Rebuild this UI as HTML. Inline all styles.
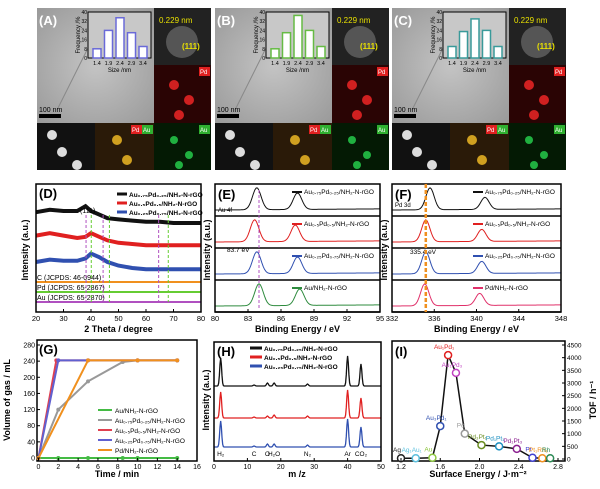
<!DOCTYPE html>
<html><head><meta charset="utf-8">
<style>
html,body{margin:0;padding:0;background:#fff;}
svg{display:block;font-family:"Liberation Sans",sans-serif;}
</style></head>
<body>
<svg id="fig" width="600" height="489" viewBox="0 0 600 489" xmlns="http://www.w3.org/2000/svg">
<defs>
<radialGradient id="tem" cx="50%" cy="50%" r="70%"><stop offset="0" stop-color="#c4c4c4"/><stop offset="1" stop-color="#9a9a9a"/></radialGradient>
</defs>
<g id="topG"></g>
<g id="midG"></g>
<g id="botG"></g>
</svg>
<script>
// ---------- data ----------
const histBins = ["1.4","1.9","2.4","2.9","3.4"];
const histA = [8,24,35,22,10];
const histB = [8,22,37,24,10];
const histC = [10,23,34,24,10];
const xrdX = [20,25,30,35,38,40,43,46,50,55,60,65,70,75,80];
const xrdBlack = [14,16,15,15,19,15,12,9,8,7,6,6,5,5,5];
const xrdRed = [12,14,12,10,11,14,11,8,6,5,4,4,4,4,4];
const xrdBlue = [10,12,11,11,13,17,14,10,7,5,4,4,4,4,4];
const au4fPeaks = [[83.8,87.5],[83.6,87.3],[83.8,87.5],[84.0,87.7]];
const pd3dPeaks = [[335.6,340.8],[335.2,340.5],[335.2,340.5],[335.1,340.3]];
const timeX = [0,2,5,8.5,10,14];
const gasAu = [0,0,0,0,0,0];
const gasAu75 = [0,120,190,238,242,242];
const gasAu50t = [0,1.8,5,10,14];
const gasAu50 = [0,242,242,242,242];
const gasAu25t = [0,2,5,10,14];
const gasAu25 = [0,242,242,242,242];
const gasPdt = [0,5,10,14];
const gasPd = [0,242,242,242];
const msPeaksX = [2,12,16,18,28,40,44];
const msBlack = [28,1,3,3,2,30,22];
const msRed = [26,1,2,3,2,28,20];
const msBlue = [26,1,3,3,2,28,20];
const msLabels = ["H₂","C","O","H₂O","N₂","Ar","CO₂"];
const tofNames = ["Ag","Ag₁Au₁","Au","Au₃Pd₁","Au₁Pd₁","Au₁Pd₃","Pd","Pd₃Pt₁","Pd₁Pt₁","Pd₁Pt₃","Pt","Pt₁Rh₁","Rh"];
const tofX = [1.2,1.35,1.52,1.6,1.68,1.76,1.85,2.02,2.2,2.38,2.54,2.64,2.72];
const tofY = [30,30,50,1300,4100,3400,1000,550,500,400,50,30,30];
const tofColors = ["#222","#5bc0de","#8dc63f","#3050b0","#e02020","#c040c0","#999","#6b8e23","#1e90c0","#8b2090","#4040d0","#f0901e","#2e8b57"];

const NS="http://www.w3.org/2000/svg";
function mk(parent,tag,attrs,text){const e=document.createElementNS(NS,tag);for(const k in attrs)e.setAttribute(k,attrs[k]);if(text!==undefined)e.textContent=text;parent.appendChild(e);return e;}
const topG=document.getElementById('topG'),midG=document.getElementById('midG'),botG=document.getElementById('botG');

// ---------- top TEM panels ----------
const panels=[{x:37,l:"(A)",h:histA,c:"#6a6ad8"},{x:215,l:"(B)",h:histB,c:"#66bb44"},{x:392,l:"(C)",h:histC,c:"#3a9a9a"}];
panels.forEach((p,i)=>{
  const g=mk(topG,'g',{});
  
  
  mk(g,'rect',{x:p.x,y:8,width:117,height:115,fill:'url(#tem)'});
  mk(g,'path',{d:`M${p.x+20} 110 L${p.x+60} 30`,stroke:'#888',fill:'none'});
  mk(g,'text',{x:p.x+2,y:25,'font-size':13,'font-weight':'bold',fill:'#fff'},p.l);
  mk(g,'text',{x:p.x+2,y:112,'font-size':7,fill:'#000'},'100 nm');
  mk(g,'rect',{x:p.x+2,y:114,width:22,height:4,fill:'#000'});
  mk(g,'rect',{x:p.x+117,y:8,width:57,height:57,fill:'#222'});
  mk(g,'circle',{cx:p.x+145,cy:42,r:16,fill:'#555'});
  mk(g,'text',{x:p.x+122,y:23,'font-size':8,fill:'#e8e000'},'0.229 nm');
  mk(g,'text',{x:p.x+145,y:49,'font-size':8,fill:'#e8e000','font-weight':'bold'},'(111)');
  mk(g,'rect',{x:p.x+117,y:65,width:57,height:58,fill:'#2a0404'});
  mk(g,'rect',{x:p.x+117,y:123,width:57,height:47,fill:'#041a04'});
  mk(g,'rect',{x:p.x,y:123,width:58,height:47,fill:'#111'});
  mk(g,'rect',{x:p.x+58,y:123,width:59,height:47,fill:'#2a1a08'});
  [[20,85],[35,100],[25,115]].forEach(b=>mk(g,'circle',{cx:p.x+117+b[0],cy:b[1],r:5,fill:'#d02020'}));
  [[20,140],[35,155],[25,165]].forEach(b=>mk(g,'circle',{cx:p.x+117+b[0],cy:b[1],r:4,fill:'#20b040'}));
  [[15,135],[25,152],[40,165]].forEach(b=>mk(g,'circle',{cx:p.x+b[0],cy:b[1],r:5,fill:'#ddd'}));
  [[80,140],[90,160]].forEach(b=>mk(g,'circle',{cx:p.x+b[0],cy:b[1],r:5,fill:'#d0a020'}));
  mk(g,'rect',{x:p.x+162,y:67,width:11,height:9,fill:'#e02020'});mk(g,'text',{x:p.x+163,y:74,'font-size':6,fill:'#fff'},'Pd');
  mk(g,'rect',{x:p.x+162,y:125,width:11,height:9,fill:'#30b030'});mk(g,'text',{x:p.x+163,y:132,'font-size':6,fill:'#fff'},'Au');
  mk(g,'rect',{x:p.x+94,y:125,width:11,height:9,fill:'#e02020'});mk(g,'text',{x:p.x+95,y:132,'font-size':6,fill:'#fff'},'Pd');
  mk(g,'rect',{x:p.x+105,y:125,width:11,height:9,fill:'#30b030'});mk(g,'text',{x:p.x+106,y:132,'font-size':6,fill:'#fff'},'Au');
  const hx=p.x+51,hy=12,hw=63,hh=46;
  mk(g,'rect',{x:hx,y:hy,width:hw,height:hh,fill:'#c8c8c8',stroke:'#000','stroke-width':1});
  const ys=v=>hy+hh-v/40*hh;
  p.h.forEach((v,k)=>{
    const b=mk(g,'rect',{x:hx+5+k*11.5,y:ys(v),width:8,height:hy+hh-ys(v),fill:'#fff',stroke:p.c,'stroke-width':1.5});
    
    
    mk(g,'text',{x:hx+9+k*11.5,y:hy+hh+7,'font-size':5.5,'text-anchor':'middle'},histBins[k]);
  });
  [0,8,16,24,32,40].forEach(t=>mk(g,'text',{x:hx-1,y:ys(t)+2,'font-size':5,'text-anchor':'end'},t));
  mk(g,'text',{x:hx+hw/2,y:hy+hh+14,'font-size':6,'text-anchor':'middle'},'Size /nm');
  mk(g,'text',{x:0,y:0,'font-size':6,'text-anchor':'middle',transform:`translate(${hx-8},${hy+hh/2}) rotate(-90)`},'Frequency /%');
});

function axes(g,x0,x1,y0,y1){mk(g,'rect',{x:x0,y:y0,width:x1-x0,height:y1-y0,fill:'none',stroke:'#000','stroke-width':1.5});}
function line(g,pts,col,w,name){const p=mk(g,'polyline',{points:pts.map(q=>q.join(',')).join(' '),fill:'none',stroke:col,'stroke-width':w||1});return p;}

const MY0=184,MY1=312;
// ---------- D: XRD ----------
{
 const g=mk(midG,'g',{});
 const X0=36,X1=201,Y0=MY0,Y1=MY1;const sx=v=>X0+(v-20)/60*(X1-X0);
 [[xrdBlack,229,'#111'],[xrdRed,250,'#e02020'],[xrdBlue,274,'#3050b0']].forEach((s,k)=>{
   line(g,xrdX.map((x,i)=>[sx(x),s[1]-s[0][i]*1.2]),s[2],4,'xrd-trace-'+k);
 });
 [[282,'#f0901e','C (JCPDS: 46-0944)'],[292,'#66cc33','Pd (JCPDS: 65-2867)'],[302,'#b050c0','Au (JCPDS: 65-2870)']].forEach(r=>{
   mk(g,'line',{x1:X0,x2:X1,y1:r[0],y2:r[0],stroke:r[1],'stroke-width':2});
   mk(g,'text',{x:X0+1,y:r[0]-2,'font-size':7},r[2]);
 });
 [[38.2,'#b050c0'],[40.1,'#66cc33'],[44.4,'#b050c0'],[46.7,'#66cc33'],[64.6,'#b050c0'],[68.1,'#66cc33']].forEach(v=>mk(g,'line',{x1:sx(v[0]),x2:sx(v[0]),y1:215,y2:302,stroke:v[1],'stroke-width':1,'stroke-dasharray':'3,2'}));
 axes(g,X0,X1,Y0,Y1);
 [20,30,40,50,60,70,80].forEach(t=>{mk(g,'line',{x1:sx(t),x2:sx(t),y1:Y1,y2:Y1-3,stroke:'#000'});mk(g,'text',{x:sx(t),y:Y1+9,'font-size':7.5,'text-anchor':'middle'},t);});
 mk(g,'text',{x:(X0+X1)/2,y:332,'font-size':9,'font-weight':'bold','text-anchor':'middle'},'2 Theta / degree');
 mk(g,'text',{x:0,y:0,'font-size':9,'font-weight':'bold','text-anchor':'middle',transform:'translate(28,250) rotate(-90)'},'Intensity (a.u.)');
 mk(g,'text',{x:39,y:198,'font-size':13,'font-weight':'bold'},'(D)');
 mk(g,'text',{x:80,y:213,'font-size':7},'(111)');
 [['#111','Au₀.₇₅Pd₀.₂₅/NH₂-N-rGO'],['#e02020','Au₀.₅Pd₀.₅/NH₂-N-rGO'],['#3050b0','Au₀.₂₅Pd₀.₇₅/NH₂-N-rGO']].forEach((l,k)=>{
  mk(g,'line',{x1:117,x2:127,y1:194+k*9,y2:194+k*9,stroke:l[0],'stroke-width':3});
  mk(g,'text',{x:129,y:197+k*9,'font-size':6.5,'font-weight':'bold'},l[1]);
 });
}

// ---------- E, F: XPS ----------
function xps(name,X0,X1,xmin,xmax,peaks,ratio,cols,labels,ticks,label,extra){
 const g=mk(midG,'g',{});
 const Y0=MY0,Y1=MY1,h=(Y1-Y0)/4;const sx=v=>X0+(v-xmin)/(xmax-xmin)*(X1-X0);
 peaks.forEach((pk,r)=>{
   const base=Y0+h*(r+1)-6,pts=[];
   for(let i=0;i<=120;i++){const x=xmin+(xmax-xmin)*i/120;let y=0.05*(x-xmin)/(xmax-xmin);
     y+=Math.exp(-Math.pow((x-pk[0])/0.55,2))+ratio*Math.exp(-Math.pow((x-pk[1])/0.55,2));
     pts.push([sx(x),base-y*22]);}
   line(g,pts,cols[r],1,name+'-trace-'+r);
   mk(g,'line',{x1:X0,x2:X1,y1:Y0+h*(r+1),y2:Y0+h*(r+1),stroke:'#000','stroke-width':1.5});
   mk(g,'line',{x1:X1-88,x2:X1-78,y1:Y0+h*r+8,y2:Y0+h*r+8,stroke:cols[r],'stroke-width':2});
   mk(g,'text',{x:X1-76,y:Y0+h*r+10,'font-size':6.5},labels[r]);
 });
 axes(g,X0,X1,Y0,Y1);
 ticks.forEach(t=>{mk(g,'line',{x1:sx(t),x2:sx(t),y1:Y1,y2:Y1-3,stroke:'#000'});mk(g,'text',{x:sx(t),y:Y1+9,'font-size':7.5,'text-anchor':'middle'},t);});
 mk(g,'text',{x:(X0+X1)/2,y:332,'font-size':9,'font-weight':'bold','text-anchor':'middle'},'Binding Energy / eV');
 mk(g,'text',{x:0,y:0,'font-size':9,'font-weight':'bold','text-anchor':'middle',transform:`translate(${X0-5},250) rotate(-90)`},'Intensity (a.u.)');
 mk(g,'text',{x:X0+3,y:199,'font-size':13,'font-weight':'bold'},label);
 extra(g,sx);
}
xps('xps-au4f-panel',215,380,80,95,au4fPeaks,0.75,['#111','#e02020','#3050b0','#2e8b3e'],
 ['Au₀.₇₅Pd₀.₂₅/NH₂-N-rGO','Au₀.₅Pd₀.₅/NH₂-N-rGO','Au₀.₂₅Pd₀.₇₅/NH₂-N-rGO','Au/NH₂-N-rGO'],[80,83,86,89,92,95],'(E)',
 (g,sx)=>{mk(g,'text',{x:218,y:212,'font-size':6},'Au 4f');mk(g,'text',{x:227,y:252,'font-size':6.5},'83.7 eV');
  mk(g,'line',{x1:sx(84),x2:sx(84),y1:190,y2:308,stroke:'#b050c0','stroke-dasharray':'3,2'});});
xps('xps-pd3d-panel',392,561,332,348,pd3dPeaks,0.55,['#111','#e02020','#3050b0','#e0306a'],
 ['Au₀.₇₅Pd₀.₂₅/NH₂-N-rGO','Au₀.₅Pd₀.₅/NH₂-N-rGO','Au₀.₂₅Pd₀.₇₅/NH₂-N-rGO','Pd/NH₂-N-rGO'],[332,336,340,344,348],'(F)',
 (g,sx)=>{mk(g,'text',{x:395,y:207,'font-size':6},'Pd 3d');mk(g,'text',{x:410,y:254,'font-size':6.5},'335.4 eV');
  mk(g,'line',{x1:sx(335.2),x2:sx(335.2),y1:184,y2:312,stroke:'#f0901e','stroke-width':2.5,'stroke-dasharray':'4,2'});});

// ---------- G: gas volume ----------
{
 const g=mk(botG,'g',{});
 const X0=37,X1=197,Y0=340,Y1=461;const sx=v=>38.5+v/16*(197-38.5),sy=v=>458-v/280*(458-345);
 axes(g,X0,X1,Y0,Y1);
 const ser=[[timeX,gasAu,'#44bb44'],[timeX,gasAu75,'#999'],[gasAu50t,gasAu50,'#e04050'],[gasAu25t,gasAu25,'#6060d0'],[gasPdt,gasPd,'#f0901e']];
 ser.forEach((s,k)=>{const pts=s[0].map((t,i)=>[sx(t),sy(s[1][i])]);line(g,pts,s[2],2,'gas-series-'+k);
   pts.forEach(p=>mk(g,'circle',{cx:p[0],cy:p[1],r:2,fill:s[2]}));});
 [0,2,4,6,8,10,12,14,16].forEach(t=>{mk(g,'line',{x1:sx(t),x2:sx(t),y1:Y1,y2:Y1-3,stroke:'#000'});mk(g,'text',{x:sx(t),y:Y1+8,'font-size':7,'text-anchor':'middle'},t);});
 [0,40,80,120,160,200,240,280].forEach(t=>{mk(g,'line',{x1:X0,x2:X0+3,y1:sy(t),y2:sy(t),stroke:'#000'});mk(g,'text',{x:X0-2,y:sy(t)+2.5,'font-size':7,'text-anchor':'end'},t);});
 mk(g,'text',{x:117,y:477,'font-size':9,'font-weight':'bold','text-anchor':'middle'},'Time / min');
 mk(g,'text',{x:0,y:0,'font-size':9,'font-weight':'bold','text-anchor':'middle',transform:'translate(10,400) rotate(-90)'},'Volume of gas / mL');
 mk(g,'text',{x:39,y:354,'font-size':13,'font-weight':'bold'},'(G)');
 const labs=['Au/NH₂-N-rGO','Au₀.₇₅Pd₀.₂₅/NH₂-N-rGO','Au₀.₅Pd₀.₅/NH₂-N-rGO','Au₀.₂₅Pd₀.₇₅/NH₂-N-rGO','Pd/NH₂-N-rGO'];
 ser.forEach((s,k)=>{mk(g,'line',{x1:98,x2:112,y1:410+k*10,y2:410+k*10,stroke:s[2],'stroke-width':2});mk(g,'text',{x:115,y:413+k*10,'font-size':6.5},labs[k]);});
}

// ---------- H: mass spec ----------
{
 const g=mk(botG,'g',{});
 const X0=214,X1=381,Y0=342,Y1=461;const sx=v=>X0+v/50*(X1-X0);
 [[msBlack,386,'#111'],[msRed,418,'#e02020'],[msBlue,447,'#3050b0']].forEach((s,k)=>{
  const pts=[];for(let i=0;i<=250;i++){const x=i/5;let y=0;msPeaksX.forEach((p,j)=>y+=s[0][j]*Math.exp(-Math.pow((x-p)/0.4,2)));pts.push([sx(x),s[1]-y]);}
  line(g,pts,s[2],1.3,'ms-trace-'+k);
 });
 axes(g,X0,X1,Y0,Y1);
 [0,10,20,30,40,50].forEach(t=>{mk(g,'line',{x1:sx(t),x2:sx(t),y1:Y1,y2:Y1-3,stroke:'#000'});mk(g,'text',{x:sx(t),y:Y1+8,'font-size':7,'text-anchor':'middle'},t);});
 msLabels.forEach((l,i)=>mk(g,'text',{x:sx(msPeaksX[i]),y:456,'font-size':6.5,'text-anchor':'middle'},l));
 mk(g,'text',{x:297,y:477,'font-size':9,'font-weight':'bold','text-anchor':'middle'},'m /z');
 mk(g,'text',{x:0,y:0,'font-size':9,'font-weight':'bold','text-anchor':'middle',transform:'translate(209,400) rotate(-90)'},'Intensity (a.u.)');
 mk(g,'text',{x:217,y:356,'font-size':13,'font-weight':'bold'},'(H)');
 [['#111','Au₀.₇₅Pd₀.₂₅/NH₂-N-rGO'],['#e02020','Au₀.₅Pd₀.₅/NH₂-N-rGO'],['#3050b0','Au₀.₂₅Pd₀.₇₅/NH₂-N-rGO']].forEach((l,k)=>{
  mk(g,'line',{x1:250,x2:262,y1:348+k*9,y2:348+k*9,stroke:l[0],'stroke-width':3});mk(g,'text',{x:264,y:351+k*9,'font-size':6.5,'font-weight':'bold'},l[1]);});
}

// ---------- I: TOF volcano ----------
{
 const g=mk(botG,'g',{});
 const X0=392,X1=565,Y0=341,Y1=461;const sx=v=>401+(v-1.2)/1.6*(558-401),sy=v=>459-v/4500*(459-345);
 axes(g,X0,X1,Y0,Y1);
 line(g,tofX.map((x,i)=>[sx(x),sy(tofY[i])]),'#111',1.5,'tof-line');
 tofX.forEach((x,i)=>{const c=mk(g,'circle',{cx:sx(x),cy:sy(tofY[i]),r:3.5,fill:'#fff',stroke:tofColors[i],'stroke-width':1.5});
  
  mk(g,'text',{x:sx(x)-4,y:sy(tofY[i])-6,'font-size':6.5,fill:tofColors[i],'text-anchor':'middle'},tofNames[i]);});
 [1.2,1.6,2.0,2.4,2.8].forEach(t=>{mk(g,'line',{x1:sx(t),x2:sx(t),y1:Y1,y2:Y1-3,stroke:'#000'});mk(g,'text',{x:sx(t),y:Y1+8,'font-size':7,'text-anchor':'middle'},t.toFixed(1));});
 [0,500,1000,1500,2000,2500,3000,3500,4000,4500].forEach(t=>{mk(g,'line',{x1:X1,x2:X1-3,y1:sy(t),y2:sy(t),stroke:'#000'});mk(g,'text',{x:X1+2,y:sy(t)+2.5,'font-size':6.5},t);});
 mk(g,'text',{x:478,y:477,'font-size':9,'font-weight':'bold','text-anchor':'middle'},'Surface Energy / J·m⁻²');
 mk(g,'text',{x:0,y:0,'font-size':9,'font-weight':'bold','text-anchor':'middle',transform:'translate(596,400) rotate(-90)'},'TOF / h⁻¹');
 mk(g,'text',{x:395,y:356,'font-size':13,'font-weight':'bold'},'(I)');
}
</script>
</body></html>
